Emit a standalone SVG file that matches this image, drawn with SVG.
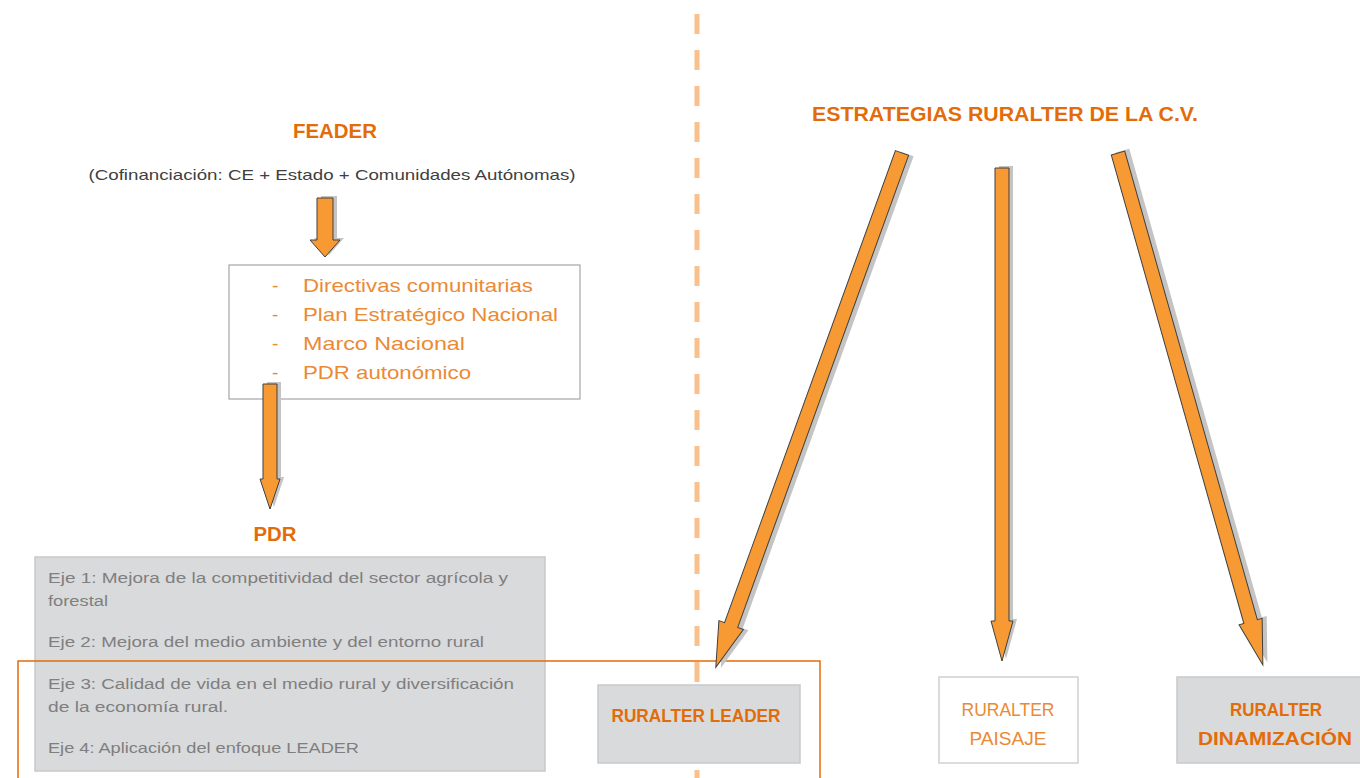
<svg xmlns="http://www.w3.org/2000/svg" width="1360" height="778" viewBox="0 0 1360 778">
<style>
  text { font-family: "Liberation Sans", Arial, sans-serif; }
  .title { font-weight: bold; font-size: 21px; fill: #e36c0a; }
  .sub { font-size: 15px; fill: #404040; }
  .item { font-size: 19px; fill: #eb8a35; }
  .eje { font-size: 15.5px; fill: #7f7f7f; }
  .box-lbl-b { font-family: "Liberation Sans Narrow", "Liberation Sans", sans-serif; font-weight: bold; font-size: 19px; fill: #e36c0a; }
  .box-lbl { font-family: "Liberation Sans Narrow", "Liberation Sans", sans-serif; font-size: 19px; fill: #eb8a35; }
  .arrow { fill: #f79a33; stroke: #404040; stroke-width: 1; stroke-linejoin: miter; }
  .shadow { fill: #c4c4c4; stroke: none; }
  .graybox { fill: #d9dadc; stroke: #c8c9cb; stroke-width: 1.5; }
</style>

<!-- divider -->
<line x1="697" y1="14" x2="697" y2="778" stroke="#f9bf8c" stroke-width="5" stroke-dasharray="20 16"/>

<g id="feader">
  <text class="title" x="335" y="138" text-anchor="middle" textLength="84" lengthAdjust="spacingAndGlyphs">FEADER</text>
  <text class="sub" x="332" y="180" text-anchor="middle" textLength="487" lengthAdjust="spacingAndGlyphs">(Cofinanciación: CE + Estado + Comunidades Autónomas)</text>
</g>

<g id="marco">
  <rect x="229" y="265" width="351" height="134" fill="#ffffff" stroke="#a6a6a6" stroke-width="1.2"/>
  <text class="item" x="272" y="292">-</text>
  <text class="item" x="303" y="292" textLength="230" lengthAdjust="spacingAndGlyphs">Directivas comunitarias</text>
  <text class="item" x="272" y="321">-</text>
  <text class="item" x="303" y="321" textLength="255" lengthAdjust="spacingAndGlyphs">Plan Estratégico Nacional</text>
  <text class="item" x="272" y="350">-</text>
  <text class="item" x="303" y="350" textLength="162" lengthAdjust="spacingAndGlyphs">Marco Nacional</text>
  <text class="item" x="272" y="379">-</text>
  <text class="item" x="303" y="379" textLength="168" lengthAdjust="spacingAndGlyphs">PDR autonómico</text>
</g>

<g id="pdr">
  <text class="title" x="275" y="541" text-anchor="middle" textLength="43" lengthAdjust="spacingAndGlyphs">PDR</text>
  <rect class="graybox" x="35" y="557" width="510" height="214"/>
  <text class="eje" x="48" y="583" textLength="460" lengthAdjust="spacingAndGlyphs">Eje 1: Mejora de la competitividad del sector agrícola y</text>
  <text class="eje" x="48" y="606" textLength="60" lengthAdjust="spacingAndGlyphs">forestal</text>
  <text class="eje" x="48" y="647" textLength="436" lengthAdjust="spacingAndGlyphs">Eje 2: Mejora del medio ambiente y del entorno rural</text>
  <text class="eje" x="48" y="689" textLength="466" lengthAdjust="spacingAndGlyphs">Eje 3: Calidad de vida en el medio rural y diversificación</text>
  <text class="eje" x="48" y="712" textLength="180" lengthAdjust="spacingAndGlyphs">de la economía rural.</text>
  <text class="eje" x="48" y="753" textLength="311" lengthAdjust="spacingAndGlyphs">Eje 4: Aplicación del enfoque LEADER</text>
</g>

<g id="leader-frame">
  <rect x="18" y="661" width="802" height="130" fill="none" stroke="#e36c0a" stroke-width="1.5"/>
</g>

<g id="estrategias">
  <text class="title" x="1005" y="121" text-anchor="middle" textLength="386" lengthAdjust="spacingAndGlyphs">ESTRATEGIAS RURALTER DE LA C.V.</text>
</g>

<g id="ruralter-leader">
  <rect class="graybox" x="598" y="685" width="202" height="78"/>
  <text class="box-lbl-b" x="696" y="722" text-anchor="middle" textLength="169" lengthAdjust="spacingAndGlyphs">RURALTER LEADER</text>
</g>

<g id="ruralter-paisaje">
  <rect x="939" y="677" width="139" height="86" fill="#ffffff" stroke="#d0d0d0" stroke-width="1.5"/>
  <text class="box-lbl" x="1008" y="716" text-anchor="middle" textLength="93" lengthAdjust="spacingAndGlyphs">RURALTER</text>
  <text class="box-lbl" x="1008" y="745" text-anchor="middle" textLength="77" lengthAdjust="spacingAndGlyphs">PAISAJE</text>
</g>

<g id="ruralter-dinamizacion">
  <rect class="graybox" x="1177" y="677" width="190" height="86"/>
  <text class="box-lbl-b" x="1276" y="716" text-anchor="middle" textLength="92" lengthAdjust="spacingAndGlyphs">RURALTER</text>
  <text class="box-lbl-b" x="1275" y="745" text-anchor="middle" textLength="154" lengthAdjust="spacingAndGlyphs">DINAMIZACIÓN</text>
</g>

<g id="connectors">
  <!-- FEADER -> marco -->
  <g transform="translate(325,198)">
    <path class="shadow" transform="translate(4,-2)" d="M-8,0 L8,0 L8,42 L15,42 L0,59 L-15,42 L-8,42 Z"/>
    <path class="arrow" d="M-8,0 L8,0 L8,42 L15,42 L0,59 L-15,42 L-8,42 Z"/>
  </g>
  <!-- marco -> PDR -->
  <g transform="translate(270,384)">
    <path class="shadow" transform="translate(4,-2)" d="M-7,0 L7,0 L7,95 L10,95 L0,125 L-10,95 L-7,95 Z"/>
    <path class="arrow" d="M-7,0 L7,0 L7,95 L10,95 L0,125 L-10,95 L-7,95 Z"/>
  </g>
  <!-- estrategias -> leader -->
  <g transform="translate(902,153) rotate(19.9)">
    <path class="shadow" transform="translate(5,-1)" d="M-7,0 L7,0 L7,502 L13,502 L0,547 L-13,502 L-7,502 Z"/>
    <path class="arrow" d="M-7,0 L7,0 L7,502 L13,502 L0,547 L-13,502 L-7,502 Z"/>
  </g>
  <!-- estrategias -> paisaje -->
  <g transform="translate(1002,168)">
    <path class="shadow" transform="translate(4,-2)" d="M-7,0 L7,0 L7,453 L11,453 L0,493 L-11,453 L-7,453 Z"/>
    <path class="arrow" d="M-7,0 L7,0 L7,453 L11,453 L0,493 L-11,453 L-7,453 Z"/>
  </g>
  <!-- estrategias -> dinamizacion -->
  <g transform="translate(1118,153) rotate(-15.8)">
    <path class="shadow" transform="translate(5,-1)" d="M-7,0 L7,0 L7,487 L12,487 L0,532 L-12,487 L-7,487 Z"/>
    <path class="arrow" d="M-7,0 L7,0 L7,487 L12,487 L0,532 L-12,487 L-7,487 Z"/>
  </g>
</g>
</svg>
